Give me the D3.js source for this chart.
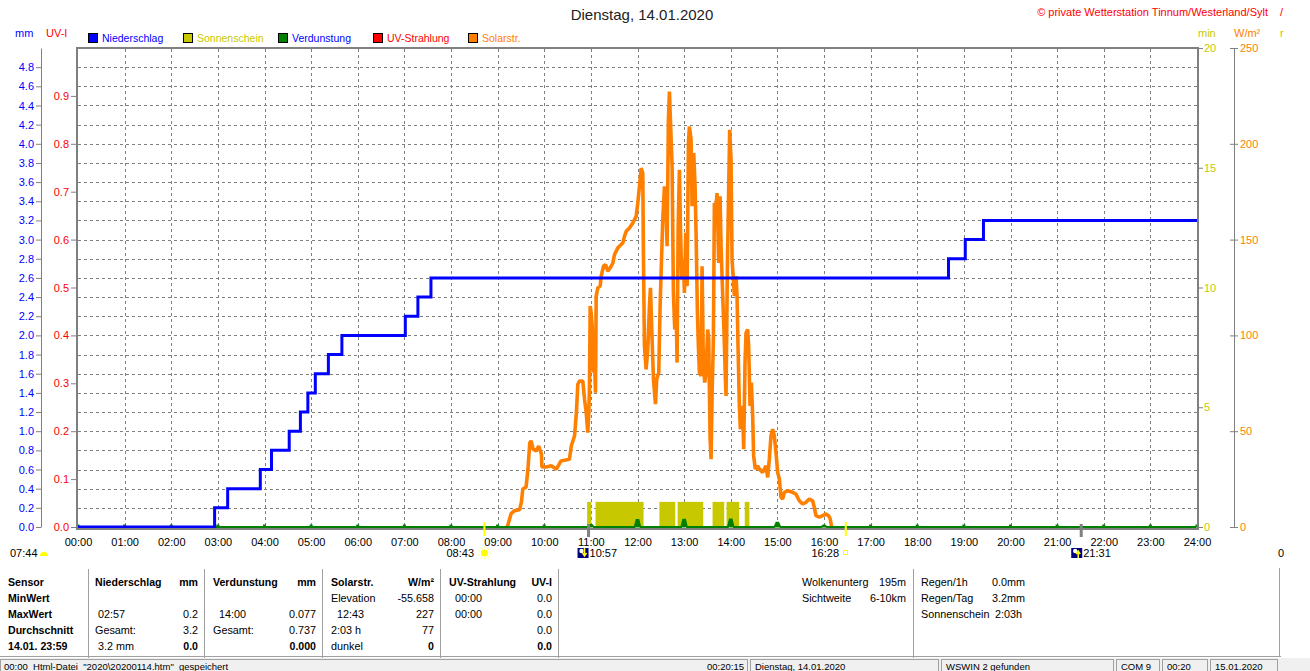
<!DOCTYPE html>
<html lang="de">
<head>
<meta charset="UTF-8">
<title>Dienstag, 14.01.2020</title>
<script src="https://d3js.org/d3.v7.min.js"></script>
<style>
  body { margin: 0; background: #fff; overflow: hidden; }
  svg { display: block; font-family: "Liberation Sans", Arial, sans-serif; }
  .grid line { stroke: #808080; stroke-dasharray: 3,3; shape-rendering: crispEdges; }
  .ax text { font-size: 11px; font-family: "Liberation Sans", Arial, sans-serif; }
  .tbl text { font-size: 10.8px; white-space: pre; }
  .tbl .b { font-weight: bold; font-size: 10.6px; }
</style>
</head>
<body>
<svg id="chart"></svg>
<script>
// ---- data ----
const hourTicks = d3.range(0, 25);

// cumulative rain (mm), step after each time (hours)
const precipTime = [0, 2.93, 3.21, 3.91, 4.15, 4.53, 4.77, 4.93, 5.09, 5.37, 5.66, 7.02, 7.29, 7.57, 18.67, 19.03, 19.42, 24];
const precipMm   = [0, 0.2, 0.4, 0.6, 0.8, 1.0, 1.2, 1.4, 1.6, 1.8, 2.0, 2.2, 2.4, 2.6, 2.8, 3.0, 3.2, 3.2];

// sunshine blocks (min)
const sunStart = [10.92, 11.10, 12.47, 12.86, 13.61, 13.91, 14.30];
const sunEnd   = [11.01, 12.13, 12.81, 13.41, 13.86, 14.18, 14.40];
const sunMin   = [1.05, 1.05, 1.05, 1.05, 1.05, 1.05, 1.05];

// evaporation per hour (mm)
const evapMm = [0, 0, 0, 0, 0, 0, 0, 0, 0, 0, 0, 0.02, 0.073, 0.075, 0.077, 0.045, 0.01, 0, 0, 0, 0, 0, 0, 0, 0];

// solar radiation (W/m²)
const solarTime = [9.20, 9.22, 9.29, 9.36, 9.47, 9.51, 9.54, 9.61, 9.65, 9.69, 9.72, 9.76, 9.83, 9.88, 9.94, 9.95,
  10.04, 10.15, 10.26, 10.36, 10.54, 10.58, 10.65, 10.69, 10.72, 10.756, 10.827, 10.864, 10.900, 10.934, 10.956,
  10.970, 10.985, 11.006, 11.028, 11.056, 11.078, 11.099, 11.114, 11.149, 11.199, 11.221, 11.271, 11.314, 11.363,
  11.435, 11.471, 11.507, 11.578, 11.650, 11.686, 11.721, 11.757, 11.828, 11.899, 11.971, 12.006, 12.042, 12.078,
  12.113, 12.128, 12.149, 12.185, 12.220, 12.256, 12.278, 12.313, 12.342, 12.385, 12.413, 12.456, 12.485, 12.513,
  12.542, 12.578, 12.614, 12.635, 12.663, 12.685, 12.706, 12.742, 12.770, 12.799, 12.828, 12.849, 12.871, 12.899,
  12.921, 12.949, 12.985, 13.006, 13.035, 13.064, 13.092, 13.113, 13.149, 13.170, 13.206, 13.235, 13.256, 13.285,
  13.306, 13.328, 13.364, 13.385, 13.413, 13.442, 13.471, 13.506, 13.528, 13.557, 13.578, 13.599, 13.628, 13.649,
  13.685, 13.706, 13.742, 13.771, 13.792, 13.828, 13.856, 13.885, 13.899, 13.928, 13.949, 13.977, 14.006, 14.028,
  14.056, 14.078, 14.114, 14.135, 14.156, 14.185, 14.206, 14.234, 14.256, 14.277, 14.306, 14.328, 14.363, 14.384,
  14.414, 14.442, 14.470, 14.491, 14.527, 14.577, 14.613, 14.684, 14.756, 14.792, 14.827, 14.863, 14.899, 14.934,
  14.970, 15.006, 15.042, 15.078, 15.113, 15.149, 15.220, 15.327, 15.399, 15.470, 15.541, 15.613, 15.684, 15.756,
  15.792, 15.827, 15.899, 15.970, 16.042, 16.098, 16.134, 16.163];
const solarWm2 = [0, 1, 7, 8.5, 9, 13, 19.8, 20.8, 30, 44, 45, 40.6, 39.7, 42.2, 38, 31.3,
  31.3, 32, 30.2, 34.5, 35.4, 42.3, 47.6, 60, 74.5, 76.2, 76.2, 66.7, 59.7, 49.3, 59.7,
  73.6, 115.3, 111.8, 104.9, 80.6, 87.5, 70.1, 120.5, 124.8, 125.7, 130.9, 136.1, 137, 133.5,
  136.1, 137.8, 142.2, 145.7, 147.4, 148.3, 151.7, 154.3, 156.1, 158.7, 162.1, 169.1, 177.8, 187.3,
  184.7, 139.6, 94.4, 82.3, 92.7, 115.3, 124.8, 97.9, 77.1, 64.1, 77.1, 80.6, 115.3, 137.8,
  160.4, 177.8, 163.9, 146.5, 212.5, 227.2, 212.5, 188.2, 122.2, 103.1, 115.3, 85.8, 155.2, 186.5,
  156.9, 129.2, 139.6, 122.2, 153.5, 125.7, 200.3, 209, 202.1, 167.4, 195.2, 177.8, 153.5, 111.8,
  94.4, 80.6, 78.8, 136.1, 84, 75.4, 80.6, 103.1, 97.9, 45.8, 35.4, 68.4, 97.9, 169.1,
  167.4, 174.3, 137.8, 172.6, 146.5, 120.5, 101.4, 77.1, 68.4, 136.1, 167.4, 207.3, 191.7, 139.6,
  129.2, 120.5, 130.9, 120.5, 94.4, 63.2, 51, 63.2, 59.7, 40.6, 85.8, 101.4, 103.1, 94.4,
  63.2, 75.4, 58, 37.1, 30.2, 31.9, 30.2, 28.5, 31.9, 25.9, 35.4, 47.6, 51, 47.6,
  38.9, 28.5, 25, 15.5, 14.6, 18.1, 18.9, 18.1, 17.2, 13.7, 12, 12.9, 14.6, 13.7,
  10.3, 5.9, 5.1, 5.9, 6.8, 5.9, 4.2, 0];

// axis tick values
const mmTicks = d3.range(0, 25).map(i => i * 0.2);
const uvTicks = [0, 0.1, 0.2, 0.3, 0.4, 0.5, 0.6, 0.7, 0.8, 0.9];
const minTicks = [0, 5, 10, 15, 20];
const solTicks = [0, 50, 100, 150, 200, 250];

// legend
const legendNames = ['Niederschlag', 'Sonnenschein', 'Verdunstung', 'UV-Strahlung', 'Solarstr.'];
const legendBox   = ['#0000ff', '#c8c800', '#008000', '#ff0000', '#ff8000'];
const legendText  = ['#0000ff', '#c8c800', '#0000ff', '#ff0000', '#ff8000'];
const legendX     = [88, 183, 278, 373, 468];

// sun / moon events under the axis
const sunEvents = [8.717, 16.467];
const moonEvents = [10.95, 21.517];

// ---- drawing ----
const W = 1310, H = 671;
const svg = d3.select('#chart').attr('width', W).attr('height', H);

const x = d3.scaleLinear().domain([0, 24]).range([78, 1197]);
const yMm = d3.scaleLinear().domain([0, 5]).range([527, 48]);
const yUv = d3.scaleLinear().domain([0, 1]).range([527, 48]);
const yMin = d3.scaleLinear().domain([0, 20]).range([527, 48]);
const ySol = d3.scaleLinear().domain([0, 250]).range([527, 48]);

// title + header texts
svg.append('text').attr('x', 642).attr('y', 20).attr('text-anchor', 'middle')
  .style('font-size', '15px').attr('fill', '#222').text('Dienstag, 14.01.2020');
svg.append('text').attr('x', 1268).attr('y', 16).attr('text-anchor', 'end')
  .style('font-size', '11px').attr('fill', '#ff0000').text('\u00a9 private Wetterstation Tinnum/Westerland/Sylt');
svg.append('text').attr('x', 1280).attr('y', 16).style('font-size', '11px').attr('fill', '#ff0000').text('/');

svg.append('text').attr('x', 15).attr('y', 37).style('font-size', '11px').attr('fill', '#0000ff').text('mm');
svg.append('text').attr('x', 46).attr('y', 37).style('font-size', '11px').attr('fill', '#ff0000').text('UV-I');
svg.append('text').attr('x', 1198).attr('y', 37).style('font-size', '11px').attr('fill', '#c8c800').text('min');
svg.append('text').attr('x', 1234).attr('y', 37).style('font-size', '11px').attr('fill', '#ff8000').text('W/m²');
svg.append('text').attr('x', 1280).attr('y', 37).style('font-size', '11px').attr('fill', '#c8c800').text('r');

// legend
const leg = svg.append('g').selectAll('g').data(legendNames).join('g')
  .attr('transform', (d, i) => `translate(${legendX[i]},33)`);
leg.append('rect').attr('x', 0.5).attr('y', 0.5).attr('width', 9).attr('height', 9)
  .attr('fill', (d, i) => legendBox[i]).attr('stroke', '#000');
leg.append('text').attr('x', 14).attr('y', 9).style('font-size', '10.5px')
  .attr('fill', (d, i) => legendText[i]).text(d => d);

// grid
const grid = svg.append('g').attr('class', 'grid');
grid.selectAll('line.v').data(hourTicks.slice(1, -1)).join('line')
  .attr('x1', d => Math.round(x(d)) + 0.5).attr('x2', d => Math.round(x(d)) + 0.5)
  .attr('y1', 49).attr('y2', 527);
grid.selectAll('line.h').data(mmTicks.slice(1)).join('line')
  .attr('x1', 78).attr('x2', 1197)
  .attr('y1', d => Math.round(yMm(d)) + 0.5).attr('y2', d => Math.round(yMm(d)) + 0.5);

// sunshine bars
svg.append('g').selectAll('rect').data(sunStart).join('rect')
  .attr('x', (d, i) => x(d)).attr('width', (d, i) => x(sunEnd[i]) - x(d))
  .attr('y', (d, i) => yMin(sunMin[i])).attr('height', (d, i) => yMin(0) - yMin(sunMin[i]))
  .attr('fill', '#c8c800');

// solar radiation
svg.append('path')
  .datum(solarTime.map((t, i) => [t, solarWm2[i]]))
  .attr('fill', 'none').attr('stroke', '#ff8000').attr('stroke-width', 3.6)
  .attr('stroke-linejoin', 'bevel')
  .attr('d', d3.line().x(d => x(d[0])).y(d => ySol(d[1])));

// evaporation: small spikes at each hour on a baseline
const evapPts = [];
hourTicks.forEach((h, i) => {
  evapPts.push([h - 0.06, 0], [h - 0.02, evapMm[i]], [h + 0.02, evapMm[i]], [h + 0.06, 0]);
});
svg.append('path').datum(evapPts.filter(d => d[0] >= 0 && d[0] <= 24))
  .attr('fill', '#008000').attr('stroke', '#008000').attr('stroke-width', 2)
  .attr('d', d3.line().x(d => x(d[0])).y(d => yMm(d[1])));
svg.append('g').selectAll('rect').data(hourTicks).join('rect')
  .attr('x', d => x(d) - 1.5).attr('y', yMm(0) - 2.5).attr('width', 3).attr('height', 3)
  .attr('fill', '#008000');

// precipitation
svg.append('path')
  .datum(precipTime.map((t, i) => [t, precipMm[i]]))
  .attr('fill', 'none').attr('stroke', '#0000ff').attr('stroke-width', 3)
  .attr('d', d3.line().curve(d3.curveStepAfter).x(d => x(d[0])).y(d => yMm(d[1])));

// frame
const frame = svg.append('g').attr('stroke', '#808080').attr('stroke-width', 2);
frame.append('line').attr('x1', 77).attr('x2', 77).attr('y1', 48).attr('y2', 530);
frame.append('line').attr('x1', 76).attr('x2', 1199).attr('y1', 48).attr('y2', 48);
frame.append('line').attr('x1', 1198).attr('x2', 1198).attr('y1', 47).attr('y2', 530);
frame.append('line').attr('x1', 76).attr('x2', 1199).attr('y1', 529).attr('y2', 529);

// axes
const axMm = svg.append('g').attr('class', 'ax').attr('transform', 'translate(41,0)')
  .call(d3.axisLeft(yMm).tickValues(mmTicks.filter(v => v < 4.9))
    .tickFormat(d3.format('.1f')).tickSize(5).tickSizeOuter(0).tickPadding(2));
axMm.selectAll('text').attr('fill', '#0000ff');
axMm.selectAll('line,path').attr('stroke', '#808080');

const axUv = svg.append('g').attr('class', 'ax').attr('transform', 'translate(76,0)')
  .call(d3.axisLeft(yUv).tickValues(uvTicks).tickFormat(d3.format('.1f')).tickSize(5).tickPadding(2));
axUv.select('.domain').remove();
axUv.selectAll('text').attr('fill', '#ff0000');
axUv.selectAll('line').attr('stroke', '#808080');

const axMin = svg.append('g').attr('class', 'ax').attr('transform', 'translate(1198,0)')
  .call(d3.axisRight(yMin).tickValues(minTicks).tickSize(5).tickPadding(1));
axMin.select('.domain').remove();
axMin.selectAll('text').attr('fill', '#c8c800');
axMin.selectAll('line').attr('stroke', '#808080');

const axSol = svg.append('g').attr('class', 'ax').attr('transform', 'translate(1234,0)')
  .call(d3.axisRight(ySol).tickValues(solTicks).tickSize(4).tickSizeOuter(0).tickPadding(2));
axSol.selectAll('text').attr('fill', '#ff8000');
axSol.selectAll('path,line').attr('stroke', '#808080');
axSol.selectAll('.tick line').attr('x1', -4);

const axX = svg.append('g').attr('class', 'ax').attr('transform', 'translate(0,529)')
  .call(d3.axisBottom(x).tickValues(hourTicks).tickFormat(d => d3.format('02')(d) + ':00')
    .tickSize(0).tickPadding(9));
axX.select('.domain').remove();
axX.selectAll('text').attr('fill', '#000');

// sun / moon marks on the axis
svg.append('g').selectAll('line').data(sunEvents).join('line')
  .attr('x1', d => x(d)).attr('x2', d => x(d)).attr('y1', 522).attr('y2', 536)
  .attr('stroke', '#ffff00').attr('stroke-width', 2);
svg.append('g').selectAll('line').data(moonEvents).join('line')
  .attr('x1', d => x(d)).attr('x2', d => x(d)).attr('y1', 524).attr('y2', 537)
  .attr('stroke', '#808080').attr('stroke-width', 3);

const ev = svg.append('g').attr('class', 'ax');
ev.append('text').attr('x', 10).attr('y', 557).text('07:44');
ev.append('path').attr('d', 'M40,556 A4,4 0 0 1 48,556 Z').attr('fill', '#ffff00');
ev.append('text').attr('x', 474).attr('y', 557).attr('text-anchor', 'end').text('08:43');
ev.append('circle').attr('cx', x(sunEvents[0])).attr('cy', 553).attr('r', 3.5).attr('fill', '#ffff00');
ev.append('circle').attr('cx', x(sunEvents[0])).attr('cy', 553).attr('r', 5.5)
  .attr('fill', 'none').attr('stroke', '#ffff99').attr('stroke-width', 1.5).attr('stroke-dasharray', '2,1.5');
ev.append('text').attr('x', 839).attr('y', 557).attr('text-anchor', 'end').text('16:28');
ev.append('rect').attr('x', 843.5).attr('y', 550.5).attr('width', 4).attr('height', 4)
  .attr('fill', 'none').attr('stroke', '#ffff00');
moonEvents.forEach((m, i) => {
  const cx = x(m) - (i === 0 ? 6 : 5);
  ev.append('rect').attr('x', cx - 5).attr('y', 548).attr('width', 11).attr('height', 10).attr('fill', '#000080');
  ev.append('circle').attr('cx', cx - 1).attr('cy', 551).attr('r', 2.2).attr('fill', '#fff');
  const up = i === 1;
  ev.append('path').attr('d', up
      ? `M${cx + 2},558 V552 M${cx},554 L${cx + 2},551 L${cx + 4},554`
      : `M${cx + 2},548 V555 M${cx},553 L${cx + 2},556 L${cx + 4},553`)
    .attr('stroke', '#ffff00').attr('stroke-width', 1.5).attr('fill', 'none');
  ev.append('text').attr('x', cx + 7).attr('y', 557).text(i === 0 ? '10:57' : '21:31');
});
ev.append('text').attr('x', 1278).attr('y', 557).text('0');

// ---- table below the chart ----
const tbl = svg.append('g').attr('class', 'tbl');
const rowY = [586, 602, 618, 634, 650];
const sensorLabels = ['Sensor', 'MinWert', 'MaxWert', 'Durchschnitt', '14.01. 23:59'];
const colLeft = [95, 213, 331, 449];
const colRight = [198, 316, 434, 552];
const colHead = [['Niederschlag', 'mm'], ['Verdunstung', 'mm'], ['Solarstr.', 'W/m²'], ['UV-Strahlung', 'UV-I']];
const colLabel = [
  ['', ' 02:57', 'Gesamt:', ' 3.2 mm'],
  ['', '  14:00', 'Gesamt:', ''],
  ['Elevation', '  12:43', '2:03 h', 'dunkel'],
  ['  00:00', '  00:00', '', '']
];
const colValue = [
  ['', '0.2', '3.2', '0.0'],
  ['', '0.077', '0.737', '0.000'],
  ['-55.658', '227', '77', '0'],
  ['0.0', '0.0', '0.0', '0.0']
];
sensorLabels.forEach((s, i) => tbl.append('text').attr('class', 'b').attr('x', 8).attr('y', rowY[i]).text(s));
colHead.forEach((c, j) => {
  tbl.append('text').attr('class', 'b').attr('x', colLeft[j]).attr('y', rowY[0]).text(c[0]);
  tbl.append('text').attr('class', 'b').attr('x', colRight[j]).attr('y', rowY[0]).attr('text-anchor', 'end').text(c[1]);
  colLabel[j].forEach((t, i) => tbl.append('text').attr('x', colLeft[j]).attr('y', rowY[i + 1]).text(t));
  colValue[j].forEach((t, i) => tbl.append('text').attr('class', i === 3 ? 'b' : null)
    .attr('x', colRight[j]).attr('y', rowY[i + 1]).attr('text-anchor', 'end').text(t));
});
const sepX = [88, 204, 322, 440, 558, 913];
tbl.selectAll('line').data(sepX).join('line')
  .attr('x1', d => d + 0.5).attr('x2', d => d + 0.5).attr('y1', 569).attr('y2', 658)
  .attr('stroke', '#a0a0a0');

const infoL = [['Wolkenunterg', '195m'], ['Sichtweite', '6-10km']];
infoL.forEach((r, i) => {
  tbl.append('text').attr('x', 802).attr('y', rowY[i]).text(r[0]);
  tbl.append('text').attr('x', 906).attr('y', rowY[i]).attr('text-anchor', 'end').text(r[1]);
});
const infoR = [['Regen/1h', '0.0mm'], ['Regen/Tag', '3.2mm'], ['Sonnenschein', '2:03h']];
infoR.forEach((r, i) => {
  tbl.append('text').attr('x', 921).attr('y', rowY[i]).text(r[0]);
  tbl.append('text').attr('x', i === 2 ? 995 : 992).attr('y', rowY[i]).text(r[1]);
});
svg.append('line').attr('x1', 1279.5).attr('x2', 1279.5).attr('y1', 568).attr('y2', 656).attr('stroke', '#a0a0a0');

// ---- status bar ----
svg.append('line').attr('x1', 0).attr('x2', 1281).attr('y1', 656.5).attr('y2', 656.5).attr('stroke', '#a0a0a0');
svg.append('rect').attr('x', 0).attr('y', 658).attr('width', W).attr('height', 13).attr('fill', '#f0f0f0');
const fields = [[0, 748], [750, 939], [941, 1114], [1116, 1160], [1162, 1208], [1210, 1278]];
const fieldText = ['00:00  Html-Datei  "2020\\20200114.htm"  gespeichert', 'Dienstag, 14.01.2020', 'WSWIN 2 gefunden', 'COM 9', '00:20', '15.01.2020'];
const sb = svg.append('g');
sb.selectAll('rect').data(fields).join('rect')
  .attr('x', d => d[0] + 0.5).attr('y', 659.5).attr('width', d => d[1] - d[0] - 1).attr('height', 14)
  .attr('fill', 'none').attr('stroke', '#a0a0a0');
fieldText.forEach((t, i) => sb.append('text').attr('x', fields[i][0] + (i === 0 ? 4 : 5)).attr('y', 669.5)
  .style('font-size', '9.5px').style('white-space', 'pre').text(t));
sb.append('text').attr('x', 744).attr('y', 669.5).attr('text-anchor', 'end').style('font-size', '9.5px').text('00:20:15');
</script>
</body>
</html>
